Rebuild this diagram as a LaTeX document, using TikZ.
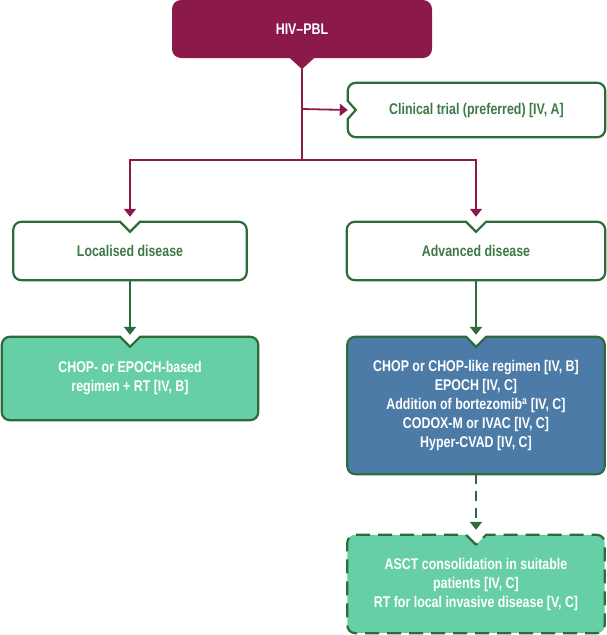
\documentclass[tikz,border=0pt]{standalone}
\usepackage{fontspec}
\setmainfont[FakeStretch=0.8]{Liberation Sans}
\usetikzlibrary{arrows.meta, positioning, backgrounds}

\definecolor{hivred}{RGB}{139,26,75}
\definecolor{boxgreen}{RGB}{45,108,58}
\definecolor{txtgreen}{RGB}{62,122,72}
\definecolor{mint}{RGB}{102,207,166}
\definecolor{steel}{RGB}{77,123,168}

% box outline with a V notch in the top edge
\newcommand{\topnotch}[2]{%
  \draw[#1] ([yshift=-10pt]#2.north) -- ([xshift=-10pt]#2.north)
    [rounded corners=8pt] -- (#2.north west) -- (#2.south west)
    -- (#2.south east) -- (#2.north east)
    [sharp corners] -- ([xshift=10pt]#2.north) -- cycle;}
% box outline with a V notch in the left edge
\newcommand{\leftnotch}[2]{%
  \draw[#1] ([xshift=8pt]#2.west) -- ([yshift=9pt]#2.west)
    [rounded corners=8pt] -- (#2.north west) -- (#2.north east)
    -- (#2.south east) -- (#2.south west)
    [sharp corners] -- ([yshift=-9pt]#2.west) -- cycle;}

\begin{document}
\begin{tikzpicture}[
    x=1pt, y=-1pt,
    every node/.style={font=\bfseries\fontsize{15.5}{19}\selectfont, align=center, inner sep=0pt},
    hivbox/.style={fill=hivred, text=white, rounded corners=9pt},
    whitebox/.style={text=txtgreen, minimum height=58pt},
    mintbox/.style={text=white},
    outline/.style={draw=boxgreen, line width=2.2pt, fill=white},
    mintline/.style={outline, fill=mint},
    blueline/.style={outline, fill=steel},
    dashline/.style={mintline, dash pattern=on 14pt off 8pt},
    hivarrow/.style={draw=hivred, line width=1.8pt, -{Triangle[width=12pt, length=8pt]}},
    greenarrow/.style={draw=boxgreen, line width=2pt, -{Triangle[width=12pt, length=8pt]}}
]
\useasboundingbox (0,0) rectangle (606,635);

\node[hivbox, minimum width=260pt, minimum height=58pt] (hiv) at (302,29) {HIV--PBL};
\coordinate (hivtip) at ([yshift=-11pt]hiv.south);
\fill[hivred] ([xshift=-12pt]hiv.south) -- (hivtip) -- ([xshift=12pt]hiv.south) -- cycle;

\node[whitebox, minimum width=257pt, minimum height=54pt] (trial) at (476.5,110)
    {Clinical trial (preferred) [IV, A]};
\node[whitebox, minimum width=233pt] (local) at (130,251) {Localised disease};
\node[whitebox, minimum width=258pt] (adv) at (476,251) {Advanced disease};

\node[mintbox, minimum width=256pt, minimum height=83pt] (localtx) at (130,378.5)
    {CHOP- or EPOCH-based\\regimen + RT [IV, B]};
\node[mintbox, minimum width=257pt, minimum height=137pt] (advtx) at (476,405.5)
    {CHOP or CHOP-like regimen [IV, B]\\EPOCH [IV, C]\\Addition of bortezomib\textsuperscript{a} [IV, C]\\CODOX-M or IVAC [IV, C]\\Hyper-CVAD [IV, C]};
\node[mintbox, minimum width=257pt, minimum height=98pt] (consol) at (476,584)
    {ASCT consolidation in suitable\\patients [IV, C]\\RT for local invasive disease [V, C]};

\begin{scope}[on background layer]
\leftnotch{outline}{trial}
\topnotch{outline}{local}
\topnotch{outline}{adv}
\topnotch{mintline}{localtx}
\topnotch{blueline}{advtx}
\topnotch{dashline}{consol}
\end{scope}

\coordinate (trialjoin) at (302,109);
\coordinate (split) at (302,160);

\draw[draw=hivred, line width=1.8pt] (hivtip) -- (split);
\draw[hivarrow] (trialjoin) -- (trial.west);
\draw[hivarrow] (split) -| ([yshift=5pt]local.north);
\draw[hivarrow] (split) -| ([yshift=5pt]adv.north);

\draw[greenarrow] (local.south) -- ([yshift=2pt]localtx.north);
\draw[greenarrow] (adv.south) -- ([yshift=2pt]advtx.north);
\draw[greenarrow, dash pattern=on 10pt off 7pt] (advtx.south) -- ([yshift=5pt]consol.north);
\end{tikzpicture}
\end{document}
